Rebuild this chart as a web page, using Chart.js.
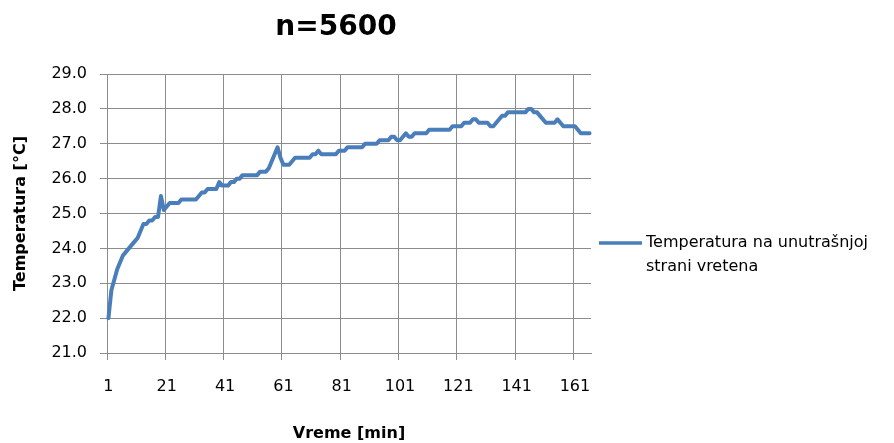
<!DOCTYPE html>
<html lang="sr">
<head>
    <meta charset="UTF-8">
    <title>n=5600</title>
    <style>
        html, body { margin: 0; padding: 0; background: #fff; }
        canvas { display: block; }
    </style>
</head>
<body>
    <canvas id="chart" width="894" height="443"></canvas>
    <script src="https://cdn.jsdelivr.net/npm/chart.js@4"></script>
    <script>
        // data (one value per minute)
        const chartTitle = 'n=5600';
        const seriesName = ['Temperatura na unutrašnjoj', 'strani vretena'];
        const minutes = Array.from({ length: 166 }, (_, i) => i + 1);
        const temps = [
            22.0, 22.8, 23.1, 23.4, 23.6, 23.8, 23.9, 24.0, 24.1, 24.2,
            24.3, 24.5, 24.7, 24.7, 24.8, 24.8, 24.9, 24.9, 25.5, 25.1,
            25.2, 25.3, 25.3, 25.3, 25.3, 25.4, 25.4, 25.4, 25.4, 25.4,
            25.4, 25.5, 25.6, 25.6, 25.7, 25.7, 25.7, 25.7, 25.9, 25.8,
            25.8, 25.8, 25.9, 25.9, 26.0, 26.0, 26.1, 26.1, 26.1, 26.1,
            26.1, 26.1, 26.2, 26.2, 26.2, 26.3, 26.5, 26.7, 26.9, 26.6,
            26.4, 26.4, 26.4, 26.5, 26.6, 26.6, 26.6, 26.6, 26.6, 26.6,
            26.7, 26.7, 26.8, 26.7, 26.7, 26.7, 26.7, 26.7, 26.7, 26.8,
            26.8, 26.8, 26.9, 26.9, 26.9, 26.9, 26.9, 26.9, 27.0, 27.0,
            27.0, 27.0, 27.0, 27.1, 27.1, 27.1, 27.1, 27.2, 27.2, 27.1,
            27.1, 27.2, 27.3, 27.2, 27.2, 27.3, 27.3, 27.3, 27.3, 27.3,
            27.4, 27.4, 27.4, 27.4, 27.4, 27.4, 27.4, 27.4, 27.5, 27.5,
            27.5, 27.5, 27.6, 27.6, 27.6, 27.7, 27.7, 27.6, 27.6, 27.6,
            27.6, 27.5, 27.5, 27.6, 27.7, 27.8, 27.8, 27.9, 27.9, 27.9,
            27.9, 27.9, 27.9, 27.9, 28.0, 28.0, 27.9, 27.9, 27.8, 27.7,
            27.6, 27.6, 27.6, 27.6, 27.7, 27.6, 27.5, 27.5, 27.5, 27.5,
            27.5, 27.4, 27.3, 27.3, 27.3, 27.3
        ];
        const yMin = 21, yMax = 29, labelEvery = 20;

        const lineColor = '#4a7ebb';
        const gridColor = '#8c8c8c';
        const fontFamily = '"DejaVu Sans", sans-serif';

        // title and the two-line legend on the right
        const extras = {
            id: 'extras',
            afterDraw(chart) {
                const ctx = chart.ctx;
                ctx.save();
                ctx.fillStyle = '#000';
                ctx.textBaseline = 'middle';
                ctx.textAlign = 'center';
                ctx.font = 'bold 28px ' + fontFamily;
                ctx.fillText(chartTitle, 336, 28);

                ctx.strokeStyle = lineColor;
                ctx.lineWidth = 3.5;
                ctx.beginPath();
                ctx.moveTo(599, 243);
                ctx.lineTo(642, 243);
                ctx.stroke();

                ctx.textAlign = 'left';
                ctx.font = '16px ' + fontFamily;
                seriesName.forEach((t, i) => ctx.fillText(t, 646, 243 + i * 24));
                ctx.restore();
            }
        };

        const xGrid = c => (c.index % labelEvery === 0 ? gridColor : 'rgba(0,0,0,0)');

        new Chart(document.getElementById('chart'), {
            type: 'line',
            data: {
                labels: minutes,
                datasets: [{
                    label: seriesName.join(' '),
                    data: temps,
                    borderColor: lineColor,
                    backgroundColor: lineColor,
                    borderWidth: 4,
                    borderJoinStyle: 'round',
                    borderCapStyle: 'round',
                    pointRadius: 0,
                    tension: 0,
                    fill: false
                }]
            },
            options: {
                responsive: false,
                animation: false,
                layout: { padding: { top: 74, right: 303, left: 0, bottom: 0 } },
                plugins: {
                    legend: { display: false },
                    title: { display: false },
                    tooltip: { enabled: false }
                },
                scales: {
                    x: {
                        type: 'category',
                        offset: true,
                        grid: {
                            offset: true,
                            color: xGrid,
                            tickColor: xGrid,
                            tickLength: 7,
                            lineWidth: 1
                        },
                        border: { color: gridColor },
                        ticks: {
                            autoSkip: false,
                            maxRotation: 0,
                            minRotation: 0,
                            padding: 17,
                            color: '#000',
                            font: { family: fontFamily, size: 16 },
                            callback: (v, i) => (i % labelEvery === 0 ? String(minutes[i]) : '')
                        },
                        title: {
                            display: true,
                            text: 'Vreme [min]',
                            color: '#000',
                            font: { family: fontFamily, size: 16, weight: 'bold' },
                            padding: { top: 0, bottom: 0 }
                        },
                        afterFit: s => { s.height = 90; }
                    },
                    y: {
                        min: yMin,
                        max: yMax,
                        grid: { color: gridColor, tickColor: gridColor, tickLength: 7 },
                        border: { color: gridColor },
                        ticks: {
                            stepSize: 1,
                            padding: 13,
                            color: '#000',
                            font: { family: fontFamily, size: 16 },
                            callback: v => v.toFixed(1)
                        },
                        title: {
                            display: true,
                            text: 'Temperatura [°C]',
                            color: '#000',
                            font: { family: fontFamily, size: 16, weight: 'bold' },
                            padding: { top: 11, bottom: 0 }
                        },
                        afterFit: s => { s.width = 107; }
                    }
                }
            },
            plugins: [extras]
        });
    </script>
</body>
</html>
